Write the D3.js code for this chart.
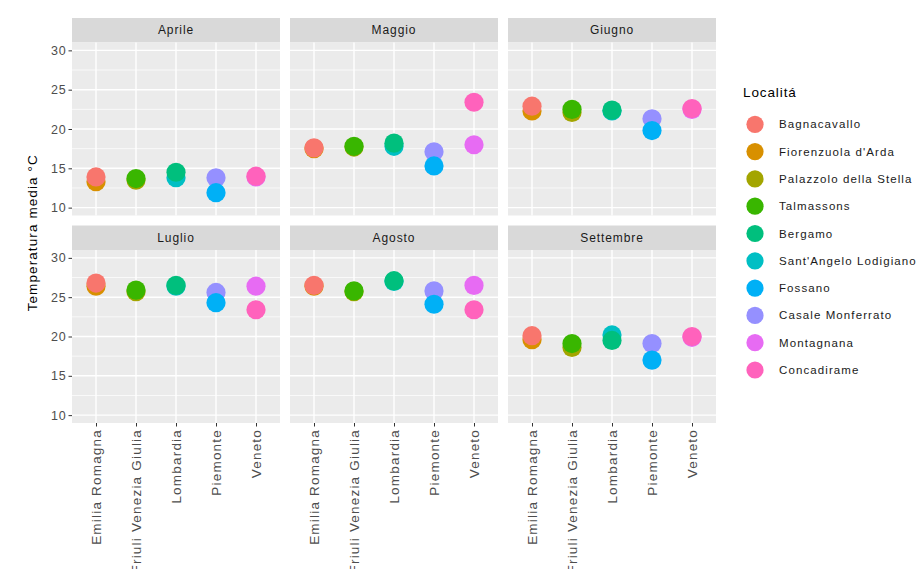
<!DOCTYPE html>
<html>
<head>
<meta charset="utf-8">
<script src="https://cdn.jsdelivr.net/npm/d3@7"></script>
<style>
  html, body { margin: 0; padding: 0; background: #ffffff; }
  svg { display: block; font-family: "Liberation Sans", Arial, sans-serif; }
</style>
</head>
<body>
<svg id="chart" width="918" height="569"></svg>
<script>
// Monthly mean temperature (°C) by locality, faceted by month
const mesi = ["Aprile", "Maggio", "Giugno", "Luglio", "Agosto", "Settembre"];
const regioni = ["Emilia Romagna", "Friuli Venezia Giulia", "Lombardia", "Piemonte", "Veneto"];
const localita = ["Bagnacavallo", "Fiorenzuola d'Arda", "Palazzolo della Stella", "Talmassons",
  "Bergamo", "Sant'Angelo Lodigiano", "Fossano", "Casale Monferrato", "Montagnana", "Concadirame"];
const regioneDiLocalita = ["Emilia Romagna", "Emilia Romagna", "Friuli Venezia Giulia", "Friuli Venezia Giulia",
  "Lombardia", "Lombardia", "Piemonte", "Piemonte", "Veneto", "Veneto"];
const colori = ["#F8766D", "#D89000", "#A3A500", "#39B600", "#00BF7D",
  "#00BFC4", "#00B0F6", "#9590FF", "#E76BF3", "#FF62BC"];

// one value per month: Aprile, Maggio, Giugno, Luglio, Agosto, Settembre
const bagnacavallo   = [13.9, 17.6, 22.9, 26.8, 26.5, 20.1];
const fiorenzuola    = [13.3, 17.5, 22.3, 26.4, 26.4, 19.6];
const palazzolo      = [13.5, 17.7, 22.1, 25.7, 25.7, 18.6];
const talmassons     = [13.7, 17.8, 22.5, 25.9, 25.8, 19.1];
const bergamo        = [14.5, 18.2, 22.4, 26.5, 27.1, 19.5];
const santAngelo     = [13.8, 17.8, 22.3, 26.4, 27.0, 20.2];
const fossano        = [11.9, 15.3, 19.8, 24.3, 24.1, 17.0];
const casale         = [13.8, 17.1, 21.3, 25.6, 25.8, 19.1];
const montagnana     = [13.9, 18.0, 22.5, 26.4, 26.5, 19.9];
const concadirame    = [14.0, 23.4, 22.6, 23.4, 23.4, 20.0];
const valori = [bagnacavallo, fiorenzuola, palazzolo, talmassons, bergamo,
  santAngelo, fossano, casale, montagnana, concadirame];

// order in which the points are stacked (later ones on top)
const ordineDisegno = ["Fiorenzuola d'Arda", "Bagnacavallo", "Palazzolo della Stella", "Talmassons",
  "Sant'Angelo Lodigiano", "Bergamo", "Casale Monferrato", "Fossano", "Montagnana", "Concadirame"];

const yTicks = [10, 15, 20, 25, 30];
const yMinor = [12.5, 17.5, 22.5, 27.5];
const titoloY = "Temperatura media °C";
const titoloLegenda = "Localitá";

// layout
const panelW = 208, panelH = 173, stripH = 24.5;
const colX = [72, 290, 508];
const rowTop = [42.5, 250];
const rPoint = 9.6;

const svg = d3.select("#chart");

const x = d3.scalePoint().domain(regioni).range([0, panelW]).padding(0.6);
const y = d3.scaleLinear().domain([9, 31]).range([panelH, 0]);
const colore = d3.scaleOrdinal().domain(localita).range(colori);

const punti = [];
ordineDisegno.forEach(nome => {
  const i = localita.indexOf(nome);
  mesi.forEach((m, j) => {
    punti.push({ mese: m, localita: nome, regione: regioneDiLocalita[i], valore: valori[i][j] });
  });
});

mesi.forEach((mese, k) => {
  const col = k % 3, row = Math.floor(k / 3);
  const g = svg.append("g").attr("transform", `translate(${colX[col]},${rowTop[row]})`);

  // strip
  g.append("rect").attr("x", 0).attr("y", -stripH).attr("width", panelW).attr("height", stripH)
    .attr("fill", "#D9D9D9");
  g.append("text").attr("x", panelW / 2).attr("y", -stripH / 2).attr("dy", "0.35em")
    .attr("text-anchor", "middle").attr("fill", "#1A1A1A")
    .style("font-size", "12px").style("letter-spacing", "0.9px").text(mese);

  // panel background and grid
  g.append("rect").attr("width", panelW).attr("height", panelH).attr("fill", "#EBEBEB");
  g.selectAll(".minor").data(yMinor).join("line")
    .attr("x1", 0).attr("x2", panelW).attr("y1", d => y(d)).attr("y2", d => y(d))
    .attr("stroke", "#ffffff").attr("stroke-width", 0.7);
  g.selectAll(".major").data(yTicks).join("line")
    .attr("x1", 0).attr("x2", panelW).attr("y1", d => y(d)).attr("y2", d => y(d))
    .attr("stroke", "#ffffff").attr("stroke-width", 1.4);
  g.selectAll(".vmajor").data(regioni).join("line")
    .attr("x1", d => x(d)).attr("x2", d => x(d)).attr("y1", 0).attr("y2", panelH)
    .attr("stroke", "#ffffff").attr("stroke-width", 1.4);

  // points
  g.selectAll("circle").data(punti.filter(p => p.mese === mese)).join("circle")
    .attr("cx", d => x(d.regione)).attr("cy", d => y(d.valore)).attr("r", rPoint)
    .attr("fill", d => colore(d.localita));

  // y axis on left column
  if (col === 0) {
    const ay = g.append("g").call(d3.axisLeft(y).tickValues(yTicks).tickSize(3.5).tickPadding(2));
    ay.select(".domain").remove();
    ay.selectAll("line").attr("stroke", "#333333").attr("stroke-width", 1);
    ay.selectAll("text").attr("fill", "#4D4D4D").style("font-size", "12.5px")
      .style("letter-spacing", "0.8px").style("font-family", "Liberation Sans, Arial, sans-serif");
  }

  // x axis on bottom row
  if (row === 1) {
    const ax = g.append("g").attr("transform", `translate(0,${panelH})`)
      .call(d3.axisBottom(x).tickSize(3.5).tickPadding(2));
    ax.select(".domain").remove();
    ax.selectAll("line").attr("stroke", "#333333").attr("stroke-width", 1);
    ax.selectAll("text").attr("fill", "#4D4D4D").style("font-size", "13.5px")
      .style("letter-spacing", "1.2px").style("font-family", "Liberation Sans, Arial, sans-serif")
      .attr("text-anchor", "end").attr("transform", "rotate(-90)")
      .attr("x", -6).attr("y", 0).attr("dy", "0.35em");
  }
});

// y axis title
svg.append("text")
  .attr("transform", `translate(37,${(rowTop[0] + rowTop[1] + panelH) / 2}) rotate(-90)`)
  .attr("text-anchor", "middle").attr("fill", "#000000")
  .style("font-size", "13.5px").style("letter-spacing", "1.1px").text(titoloY);

// legend
const legenda = svg.append("g").attr("transform", "translate(743,0)");
legenda.append("text").attr("x", 0).attr("y", 97).attr("fill", "#000000")
  .style("font-size", "13.5px").style("letter-spacing", "0.9px").text(titoloLegenda);
const voci = legenda.selectAll("g.voce").data(localita).join("g")
  .attr("transform", (d, i) => `translate(0,${124.3 + i * 27.3})`);
voci.append("circle").attr("cx", 12).attr("cy", 0).attr("r", 8.6).attr("fill", d => colore(d));
voci.append("text").attr("x", 36).attr("y", 0).attr("dy", "0.35em").attr("fill", "#1A1A1A")
  .style("font-size", "11.5px").style("letter-spacing", "1.1px").text(d => d);
</script>
</body>
</html>
